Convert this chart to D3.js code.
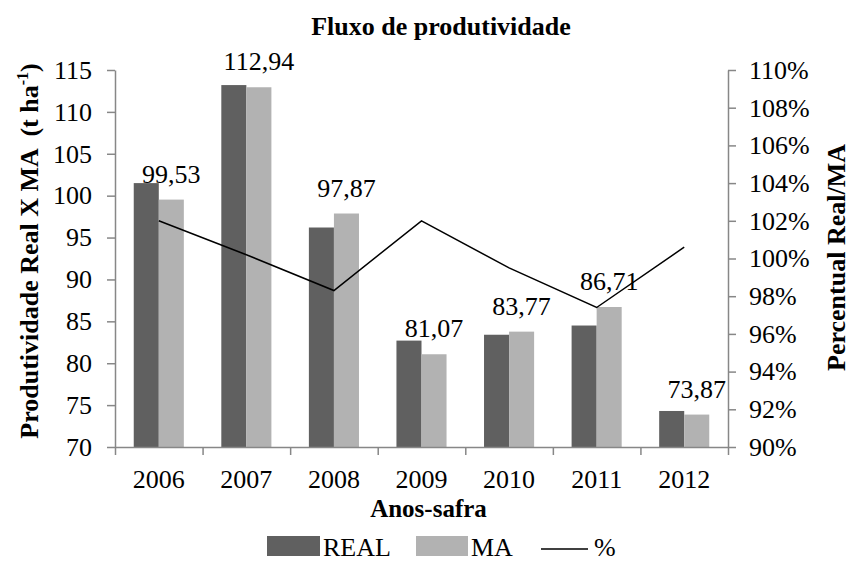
<!DOCTYPE html>
<html>
<head>
<meta charset="utf-8">
<script src="https://cdn.jsdelivr.net/npm/d3@7"></script>
<style>
  html, body { margin: 0; padding: 0; background: #fff; }
  svg, svg text { font-family: "Liberation Serif", "Times New Roman", Tinos, "DejaVu Serif", serif !important; }
  svg { display: block; }
</style>
</head>
<body>
<svg id="chart" width="850" height="561"></svg>
<script>
// ---- data ----
const years = ["2006", "2007", "2008", "2009", "2010", "2011", "2012"];
const realValues = [101.5, 113.2, 96.2, 82.7, 83.4, 84.5, 74.3];
const maValues = [99.53, 112.94, 97.87, 81.07, 83.77, 86.71, 73.87];
const percentValues = [102.0, 100.2, 98.3, 102.0, 99.5, 97.4, 100.6];
const maLabels = ["99,53", "112,94", "97,87", "81,07", "83,77", "86,71", "73,87"];
const leftTicks = [70, 75, 80, 85, 90, 95, 100, 105, 110, 115];
const rightTicks = [90, 92, 94, 96, 98, 100, 102, 104, 106, 108, 110];
const seriesNames = ["REAL", "MA", "%"];

// ---- layout ----
const svg = d3.select("#chart");
const plotL = 115, plotR = 728, plotT = 70, plotB = 447;
const axisColor = "#878787";
const realColor = "#606060";
const maColor = "#b2b2b2";

const x = d3.scaleBand().domain(years).range([plotL, plotR]).padding(0);
const xEdge = d3.scaleLinear().domain([0, years.length]).range([plotL, plotR]);
const yL = d3.scaleLinear().domain([70, 115]).range([plotB, plotT]);
const yR = d3.scaleLinear().domain([90, 110]).range([plotB, plotT]);
const barW = x.bandwidth() * 0.286;

// ---- bars ----
const g = svg.append("g");
g.selectAll("rect.real").data(years).join("rect")
  .attr("class", "real")
  .attr("x", d => x(d) + x.bandwidth() / 2 - barW)
  .attr("y", (d, i) => yL(realValues[i]))
  .attr("width", barW)
  .attr("height", (d, i) => yL(70) - yL(realValues[i]))
  .attr("fill", realColor);

g.selectAll("rect.ma").data(years).join("rect")
  .attr("class", "ma")
  .attr("x", d => x(d) + x.bandwidth() / 2)
  .attr("y", (d, i) => yL(maValues[i]))
  .attr("width", barW)
  .attr("height", (d, i) => yL(70) - yL(maValues[i]))
  .attr("fill", maColor);

// ---- data labels ----
g.selectAll("text.lbl").data(years).join("text")
  .attr("class", "lbl")
  .attr("x", d => x(d) + x.bandwidth() / 2 + barW / 2)
  .attr("y", (d, i) => yL(maValues[i]) - 17)
  .attr("text-anchor", "middle")
  .attr("font-size", 26)
  .attr("fill", "#000")
  .text((d, i) => maLabels[i]);

// ---- percent line ----
const line = d3.line()
  .x((d, i) => x(years[i]) + x.bandwidth() / 2)
  .y(d => yR(d));
g.append("path")
  .datum(percentValues)
  .attr("d", line)
  .attr("fill", "none")
  .attr("stroke", "#000")
  .attr("stroke-width", 1.5);

// ---- axes ----
function styleAxis(sel) {
  sel.attr("font-family", null);
  sel.select(".domain").attr("stroke", axisColor).attr("stroke-width", 1.5);
  sel.selectAll(".tick line").attr("stroke", axisColor).attr("stroke-width", 1.5);
  sel.selectAll(".tick text").attr("fill", "#000").attr("font-size", 26);
}

const axL = svg.append("g").attr("transform", `translate(${plotL},0)`)
  .call(d3.axisLeft(yL).tickValues(leftTicks).tickSize(8).tickSizeOuter(0).tickPadding(15));
styleAxis(axL);

const axR = svg.append("g").attr("transform", `translate(${plotR},0)`)
  .call(d3.axisRight(yR).tickValues(rightTicks).tickSize(8).tickSizeOuter(0).tickPadding(13)
    .tickFormat(d => d + "%"));
styleAxis(axR);

const axB = svg.append("g").attr("transform", `translate(0,${plotB})`)
  .call(d3.axisBottom(xEdge).tickValues(d3.range(years.length + 1)).tickSize(8).tickSizeOuter(0).tickFormat(""));
styleAxis(axB);

const axBL = svg.append("g").attr("transform", `translate(0,${plotB})`)
  .call(d3.axisBottom(x).tickSize(0).tickPadding(22.5));
axBL.select(".domain").remove();
styleAxis(axBL);

// ---- titles ----
svg.append("text")
  .attr("x", 441).attr("y", 35)
  .attr("text-anchor", "middle")
  .attr("font-weight", "bold").attr("font-size", 26)
  .text("Fluxo de produtividade");

svg.append("text")
  .attr("x", 428.5).attr("y", 517)
  .attr("text-anchor", "middle")
  .attr("font-weight", "bold").attr("font-size", 25)
  .text("Anos-safra");

const lt = svg.append("text")
  .attr("transform", "translate(38,251) rotate(-90)")
  .attr("text-anchor", "middle")
  .attr("font-weight", "bold").attr("font-size", 26)
  .style("white-space", "pre");
lt.append("tspan").text("Produtividade Real X MA  (t ha");
lt.append("tspan").attr("font-size", 16).attr("dy", -10).text("-1");
lt.append("tspan").attr("dy", 10).text(")");

svg.append("text")
  .attr("transform", "translate(845,257.5) rotate(-90)")
  .attr("text-anchor", "middle")
  .attr("font-weight", "bold").attr("font-size", 26)
  .text("Percentual Real/MA");

// ---- legend ----
const lg = svg.append("g");
lg.append("rect").attr("x", 267).attr("y", 536).attr("width", 53).attr("height", 20).attr("fill", realColor);
lg.append("text").attr("x", 323).attr("y", 556).attr("font-size", 26).text(seriesNames[0]);
lg.append("rect").attr("x", 416).attr("y", 536).attr("width", 52).attr("height", 20).attr("fill", maColor);
lg.append("text").attr("x", 471).attr("y", 556).attr("font-size", 26).text(seriesNames[1]);
lg.append("line").attr("x1", 541).attr("x2", 588).attr("y1", 549).attr("y2", 549)
  .attr("stroke", "#000").attr("stroke-width", 1.5);
lg.append("text").attr("x", 594).attr("y", 556).attr("font-size", 26).text(seriesNames[2]);
</script>
</body>
</html>
